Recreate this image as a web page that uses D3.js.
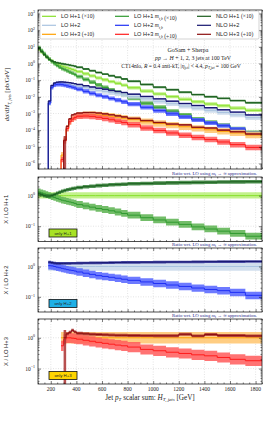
<!DOCTYPE html>
<html>
<head>
<meta charset="utf-8">
<script src="https://cdn.jsdelivr.net/npm/d3@7"></script>
<style>
  body { margin: 0; background: #fff; }
  svg text { font-family: "Liberation Serif", "DejaVu Serif", serif; fill: #222; }
  svg text.sans { font-family: "Liberation Sans", "DejaVu Sans", sans-serif; }
</style>
</head>
<body>
<div id="chart"></div>
<script>
// H_T,jets bin edges [GeV]
const edges = [100,120,140,160,180,200,220,240,260,280,300,320,340,360,380,400,
  450,500,550,600,650,700,750,800,900,1000,1100,1200,1300,1400,1500,1600,1720,1850];

// LO H+1 (mt -> inf), plotted x10 [pb/GeV]
const loH1 = [6.8,4.8,3.4,2.45,1.8,1.4,1.12,0.93,0.79,0.69,0.62,0.55,0.49,0.44,0.39,
  0.32,0.24,0.18,0.135,0.105,0.081,0.065,0.05,0.035,0.022,0.0148,0.0102,0.0071,0.005,0.0037,0.0029,0.0021,0.00155];
// ratios to LO H+1
const mtbH1 = [1.32,1.23,1.15,1.07,1.0,0.93,0.87,0.81,0.76,0.71,0.68,0.65,0.62,0.59,0.56,
  0.51,0.46,0.42,0.38,0.35,0.32,0.29,0.26,0.23,0.19,0.16,0.135,0.115,0.095,0.081,0.069,0.058,0.047];
const nloH1 = [1.15,1.07,1.0,0.97,0.97,1.02,1.1,1.2,1.3,1.4,1.48,1.56,1.63,1.7,1.76,
  1.85,1.96,2.05,2.13,2.2,2.27,2.33,2.38,2.45,2.52,2.58,2.63,2.68,2.72,2.76,2.8,2.83,2.86];

// LO H+2 [pb/GeV]
const loH2 = [null,null,null,null,0.004,0.036,0.052,0.059,0.062,0.062,0.06,0.0575,0.055,0.051,0.048,
  0.043,0.0355,0.0295,0.025,0.0214,0.018,0.0155,0.0132,0.0105,0.0076,0.0054,0.0039,0.0028,0.0021,0.00155,0.00115,0.00083,0.00056];
const mtbH2 = [null,null,null,null,1.07,1.05,1.0,0.95,0.91,0.87,0.83,0.79,0.76,0.74,0.71,
  0.66,0.6,0.55,0.5,0.47,0.44,0.41,0.38,0.35,0.31,0.275,0.245,0.22,0.195,0.175,0.16,0.14,0.112];
const nloH2 = [null,null,null,null,1.4,1.35,1.3,1.28,1.27,1.27,1.27,1.28,1.28,1.29,1.29,
  1.3,1.31,1.32,1.33,1.34,1.35,1.36,1.37,1.38,1.39,1.4,1.41,1.42,1.43,1.44,1.45,1.46,1.47];

// LO H+3, plotted /10 [pb/GeV]
const loH3 = [null,null,null,null,null,null,null,null,null,3.2e-6,2.5e-5,1.26e-4,3.2e-4,4.7e-4,6.0e-4,
  7.6e-4,8.5e-4,8.7e-4,8.3e-4,7.6e-4,6.8e-4,6.0e-4,5.2e-4,4.3e-4,3.2e-4,2.5e-4,2.0e-4,1.6e-4,1.29e-4,1.05e-4,8.5e-5,6.8e-5,5.1e-5];
const mtbH3 = [null,null,null,null,null,null,null,null,null,0.55,0.9,1.0,1.0,0.97,0.95,
  0.9,0.83,0.77,0.71,0.66,0.62,0.58,0.55,0.5,0.42,0.38,0.34,0.31,0.28,0.26,0.23,0.2,0.18];
const nloH3 = [null,null,null,null,null,null,null,null,null,null,1.0,1.35,1.5,1.75,1.55,
  1.4,1.35,1.3,1.28,1.25,1.22,1.2,1.2,1.18,1.17,1.16,1.16,1.3,1.15,1.28,1.18,1.18,1.15];

// scale-uncertainty bands [down, up] relative to central value
const bandLO  = [[0.8, 1.28], [0.72, 1.33], [0.65, 1.55]];
const bandMtb = [[0.78, 1.3], [0.75, 1.32], [0.68, 1.45]];
const bandNLO = [[0.87, 1.14], [0.9, 1.1], [0.9, 1.12]];
const nloH3FirstBand = [0.0001, 1.8];

const xTicks = [200,400,600,800,1000,1200,1400,1600,1800];
const mainDecades = [-6,-5,-4,-3,-2,-1,0,1,2,3];
const ratioDecades = [-1, 0];

// layout
const width = 272, height = 423;
const left = 38, right = 262;
const mainTop = 10, mainBottom = 169;
const panels = [[177, 241.5], [248, 312], [319, 384]];

const groups = [
  { n: "1", lo: loH1, mtb: mtbH1, nlo: nloH1, suffix: " (×10)", tagFill: "#a8e225",
    col: { lo: ["#86e02a", "#b8ee78"], mtb: ["#2f9a2f", "#5bb24f"], nlo: ["#1a5c1c", "#2f7d32"] } },
  { n: "2", lo: loH2, mtb: mtbH2, nlo: nloH2, suffix: "", tagFill: "#1eb0e6",
    col: { lo: ["#a9c3e0", "#c9d8ea"], mtb: ["#2030f5", "#5363ff"], nlo: ["#14146e", "#2c2c95"] } },
  { n: "3", lo: loH3, mtb: mtbH3, nlo: nloH3, suffix: " (÷10)", tagFill: "#ffd500",
    col: { lo: ["#ffa000", "#ffc46c"], mtb: ["#ff1c1c", "#ff5a5a"], nlo: ["#8c0e0e", "#aa3030"] } }
];

const x = d3.scaleLinear().domain([100, 1850]).range([left, right]);
const yMain = d3.scaleLog().domain([Math.pow(10, -6.33), Math.pow(10, 3.21)]).range([mainBottom, mainTop]);

const svg = d3.select("#chart").append("svg")
  .attr("width", width).attr("height", height)
  .attr("viewBox", [0, 0, width, height]);

function makeBins(base, ratio, band, firstBand) {
  const out = [];
  base.forEach((b, i) => {
    const r = ratio ? ratio[i] : 1;
    if (b == null || r == null) return;
    const bd = (out.length === 0 && firstBand) ? firstBand : band;
    out.push({ x0: edges[i], x1: edges[i + 1], main: b * r, ratio: r, dn: bd[0], up: bd[1] });
  });
  return out;
}

function drawSeries(g, bins, y, key, col, floor) {
  const pts = bins.map(d => ({ x: d.x0, c: d[key], lo: d[key] * d.dn, hi: d[key] * d.up }));
  const last = pts[pts.length - 1];
  pts.push({ x: bins[bins.length - 1].x1, c: last.c, lo: last.lo, hi: last.hi });
  const area = d3.area().curve(d3.curveStepAfter)
    .x(d => x(d.x)).y0(d => y(d.lo)).y1(d => y(d.hi));
  g.append("path").attr("d", area(pts)).attr("fill", col[1]).attr("opacity", 0.85);
  const line = d3.line().curve(d3.curveStepAfter).x(d => x(d.x)).y(d => y(d.c));
  const lp = floor ? [{ x: pts[0].x, c: floor }, ...pts] : pts;
  g.append("path").attr("d", line(lp)).attr("fill", "none")
    .attr("stroke", col[0]).attr("stroke-width", 1);
}

function minorLog(y) {
  const [a, b] = y.domain();
  const out = [];
  for (let k = -8; k <= 4; k++) for (let m = 2; m <= 9; m++) {
    const v = m * Math.pow(10, k);
    if (v > a && v < b) out.push(v);
  }
  return out;
}

function frame(top, bottom, y, decades, clipId, showX) {
  const g = svg.append("g");
  // grid
  g.append("g").selectAll("line").data(xTicks).join("line")
    .attr("x1", d => x(d)).attr("x2", d => x(d)).attr("y1", top).attr("y2", bottom)
    .attr("stroke", "#c8c8c8").attr("stroke-width", 0.5).attr("stroke-dasharray", "1,1.5");
  g.append("g").selectAll("line").data(decades).join("line")
    .attr("x1", left).attr("x2", right).attr("y1", d => y(Math.pow(10, d))).attr("y2", d => y(Math.pow(10, d)))
    .attr("stroke", "#c8c8c8").attr("stroke-width", 0.5).attr("stroke-dasharray", "1,1.5");
  svg.append("clipPath").attr("id", clipId).append("rect")
    .attr("x", left).attr("y", top).attr("width", right - left).attr("height", bottom - top);
  return g;
}

function axes(top, bottom, y, decades, showX) {
  const g = svg.append("g");
  const majorsY = decades.map(d => Math.pow(10, d));
  const minorsY = minorLog(y);
  const minorsX = d3.range(100, 1851, 50).filter(d => d % 200 !== 0);
  const style = s => s.call(a => a.select(".domain").remove())
    .call(a => a.selectAll("line").attr("stroke", "#000").attr("stroke-width", 0.5));
  g.append("g").attr("transform", `translate(${left},0)`)
    .call(d3.axisLeft(y).tickValues(majorsY).tickSize(-3).tickFormat("")).call(style);
  g.append("g").attr("transform", `translate(${left},0)`)
    .call(d3.axisLeft(y).tickValues(minorsY).tickSize(-1.5).tickFormat("")).call(style);
  g.append("g").attr("transform", `translate(${right},0)`)
    .call(d3.axisRight(y).tickValues(majorsY).tickSize(-3).tickFormat("")).call(style);
  g.append("g").attr("transform", `translate(${right},0)`)
    .call(d3.axisRight(y).tickValues(minorsY).tickSize(-1.5).tickFormat("")).call(style);
  g.append("g").attr("transform", `translate(0,${bottom})`)
    .call(d3.axisBottom(x).tickValues(xTicks).tickSize(-3).tickFormat("")).call(style);
  g.append("g").attr("transform", `translate(0,${bottom})`)
    .call(d3.axisBottom(x).tickValues(minorsX).tickSize(-1.5).tickFormat("")).call(style);
  g.append("g").attr("transform", `translate(0,${top})`)
    .call(d3.axisTop(x).tickValues(xTicks).tickSize(-3).tickFormat("")).call(style);
  g.append("g").attr("transform", `translate(0,${top})`)
    .call(d3.axisTop(x).tickValues(minorsX).tickSize(-1.5).tickFormat("")).call(style);
  g.append("rect").attr("x", left).attr("y", top).attr("width", right - left).attr("height", bottom - top)
    .attr("fill", "none").attr("stroke", "#000").attr("stroke-width", 0.7);
  // y tick labels 10^n
  g.append("g").selectAll("text").data(decades).join("text")
    .attr("x", left - 3).attr("y", d => y(Math.pow(10, d)) + 2)
    .attr("text-anchor", "end").attr("font-size", 5.5)
    .each(function (d) {
      const t = d3.select(this);
      t.append("tspan").text("10");
      t.append("tspan").attr("dy", -2.3).attr("font-size", 3.9).text(d < 0 ? "−" + (-d) : d);
    });
  if (showX) {
    g.append("g").selectAll("text").data(xTicks).join("text")
      .attr("x", d => x(d)).attr("y", bottom + 7).attr("text-anchor", "middle")
      .attr("font-size", 5.5).text(d => d);
  }
}

// ---------- main panel ----------
const gMain = frame(mainTop, mainBottom, yMain, mainDecades, "clip-main");
const plotMain = svg.append("g").attr("clip-path", "url(#clip-main)");
const floorMain = yMain.domain()[0] / 10;
groups.forEach((gr, i) => {
  const loBins = makeBins(gr.lo, null, bandLO[i]);
  const mtbBins = makeBins(gr.lo, gr.mtb, bandMtb[i]);
  const nloBins = makeBins(gr.lo, gr.nlo, bandNLO[i], i === 2 ? nloH3FirstBand : null);
  const fl = i === 0 ? null : floorMain;
  drawSeries(plotMain, loBins, yMain, "main", gr.col.lo, fl);
  drawSeries(plotMain, mtbBins, yMain, "main", gr.col.mtb, fl);
  drawSeries(plotMain, nloBins, yMain, "main", gr.col.nlo, fl);
});
axes(mainTop, mainBottom, yMain, mainDecades, false);

// legend
const leg = svg.append("g");
leg.append("rect").attr("x", 40).attr("y", 11).attr("width", 219).attr("height", 28).attr("rx", 1.5)
  .attr("fill", "#fff").attr("stroke", "#b5b5b5").attr("stroke-width", 0.6);
const legCols = [[42, "lo", "LO"], [115, "mtb", "LO"], [197, "nlo", "NLO"]];
legCols.forEach(([lx, key, pre]) => {
  groups.forEach((gr, j) => {
    const ly = 16.3 + j * 9;
    leg.append("line").attr("x1", lx).attr("x2", lx + 14).attr("y1", ly).attr("y2", ly)
      .attr("stroke", gr.col[key][0]).attr("stroke-width", 1.2);
    const t = leg.append("text").attr("x", lx + 19).attr("y", ly + 2).attr("font-size", 5.6);
    t.append("tspan").attr("class", "sans").style("font-family", "Liberation Sans, DejaVu Sans, sans-serif")
      .text(`${pre} H+${gr.n}`);
    if (key === "mtb") {
      t.append("tspan").text(" ");
      t.append("tspan").attr("font-style", "italic").text("m");
      t.append("tspan").attr("font-size", 3.8).attr("dy", 1.2).attr("font-style", "italic").text("t,b");
      t.append("tspan").attr("dy", -1.2).text("");
    }
    t.append("tspan").text(gr.suffix);
  });
});

// process info
const info = svg.append("g").attr("font-size", 5.8);
info.append("text").attr("x", 188).attr("y", 51.5).attr("text-anchor", "middle").attr("font-size", 6).text("GoSam + Sherpa");
const l2 = info.append("text").attr("x", 193).attr("y", 59.5).attr("text-anchor", "middle").attr("font-size", 5.8);
l2.append("tspan").attr("font-style", "italic").text("pp");
l2.append("tspan").text(" → ");
l2.append("tspan").attr("font-style", "italic").text("H");
l2.append("tspan").text(" + 1, 2, 3 jets at 100 TeV");
const l3 = info.append("text").attr("x", 181).attr("y", 68).attr("text-anchor", "middle").attr("font-size", 5.6);
l3.append("tspan").text("CT14nlo, ");
l3.append("tspan").attr("font-style", "italic").text("R");
l3.append("tspan").text(" = 0.4 anti-kT, |");
l3.append("tspan").attr("font-style", "italic").text("η");
l3.append("tspan").attr("font-size", 3.8).attr("dy", 1).text("jet");
l3.append("tspan").attr("dy", -1).text("| < 4.4, ");
l3.append("tspan").attr("font-style", "italic").text("p");
l3.append("tspan").attr("font-size", 3.8).attr("dy", 1).attr("font-style", "italic").text("T,jet");
l3.append("tspan").attr("dy", -1).text(" = 100 GeV");

// main y label
const yl = svg.append("text").attr("transform", `translate(9,${(mainTop + mainBottom) / 2 + 5}) rotate(-90)`)
  .attr("text-anchor", "middle").attr("font-size", 6.5);
yl.append("tspan").attr("font-style", "italic").text("dσ/dH");
yl.append("tspan").attr("font-size", 4.5).attr("dy", 1.5).attr("font-style", "italic").text("T, jets");
yl.append("tspan").attr("dy", -1.5).text("  [pb/GeV]");

// ---------- ratio panels ----------
groups.forEach((gr, i) => {
  const [top, bottom] = panels[i];
  const y = d3.scaleLog().domain([Math.pow(10, -1.5), Math.pow(10, 0.61)]).range([bottom, top]);
  const id = "clip-r" + i;
  frame(top, bottom, y, ratioDecades, id);
  const plot = svg.append("g").attr("clip-path", `url(#${id})`);
  drawSeries(plot, makeBins(gr.lo, null, bandLO[i]), y, "ratio", gr.col.lo, null);
  drawSeries(plot, makeBins(gr.lo, gr.mtb, bandMtb[i]), y, "ratio", gr.col.mtb, null);
  drawSeries(plot, makeBins(gr.lo, gr.nlo, bandNLO[i], i === 2 ? nloH3FirstBand : null), y, "ratio", gr.col.nlo, null);
  axes(top, bottom, y, ratioDecades, i === 2);

  // note above the panel
  const note = svg.append("text").attr("x", 257).attr("y", top - 2.2).attr("text-anchor", "end")
    .attr("font-size", 4.8).style("fill", "#2a2a8c");
  note.append("tspan").text("Ratio wrt. LO using ");
  note.append("tspan").attr("font-style", "italic").style("fill", "#2a2a8c").text("m");
  note.append("tspan").attr("font-size", 3.4).attr("dy", 0.9).style("fill", "#2a2a8c").text("t");
  note.append("tspan").attr("dy", -0.9).style("fill", "#2a2a8c").text(" → ∞ approximation.");
  note.selectAll("tspan").style("fill", "#2a2a8c");

  // "only H+n" tag
  const ty = bottom - 12.5;
  svg.append("rect").attr("x", 49).attr("y", ty).attr("width", 28).attr("height", 8)
    .attr("fill", gr.tagFill).attr("stroke", "#111").attr("stroke-width", 0.8);
  svg.append("text").attr("class", "sans").attr("x", 63).attr("y", ty + 5.6).attr("text-anchor", "middle")
    .attr("font-size", 4.3).text(`only H+${gr.n}`);

  // y label
  svg.append("text").attr("class", "sans")
    .attr("transform", `translate(8,${(top + bottom) / 2}) rotate(-90)`)
    .attr("text-anchor", "middle").attr("font-size", 5.8).text(`X / LO H+${gr.n}`);
});

// x label
const xl = svg.append("text").attr("x", 150).attr("y", 399.5).attr("text-anchor", "middle").attr("font-size", 7.2);
xl.append("tspan").text("Jet ");
xl.append("tspan").attr("font-style", "italic").text("p");
xl.append("tspan").attr("font-size", 5).attr("dy", 1.5).attr("font-style", "italic").text("T");
xl.append("tspan").attr("dy", -1.5).text(" scalar sum:  ");
xl.append("tspan").attr("font-style", "italic").text("H");
xl.append("tspan").attr("font-size", 5).attr("dy", 1.5).attr("font-style", "italic").text("T, jets");
xl.append("tspan").attr("dy", -1.5).text(" [GeV]");
</script>
</body>
</html>
